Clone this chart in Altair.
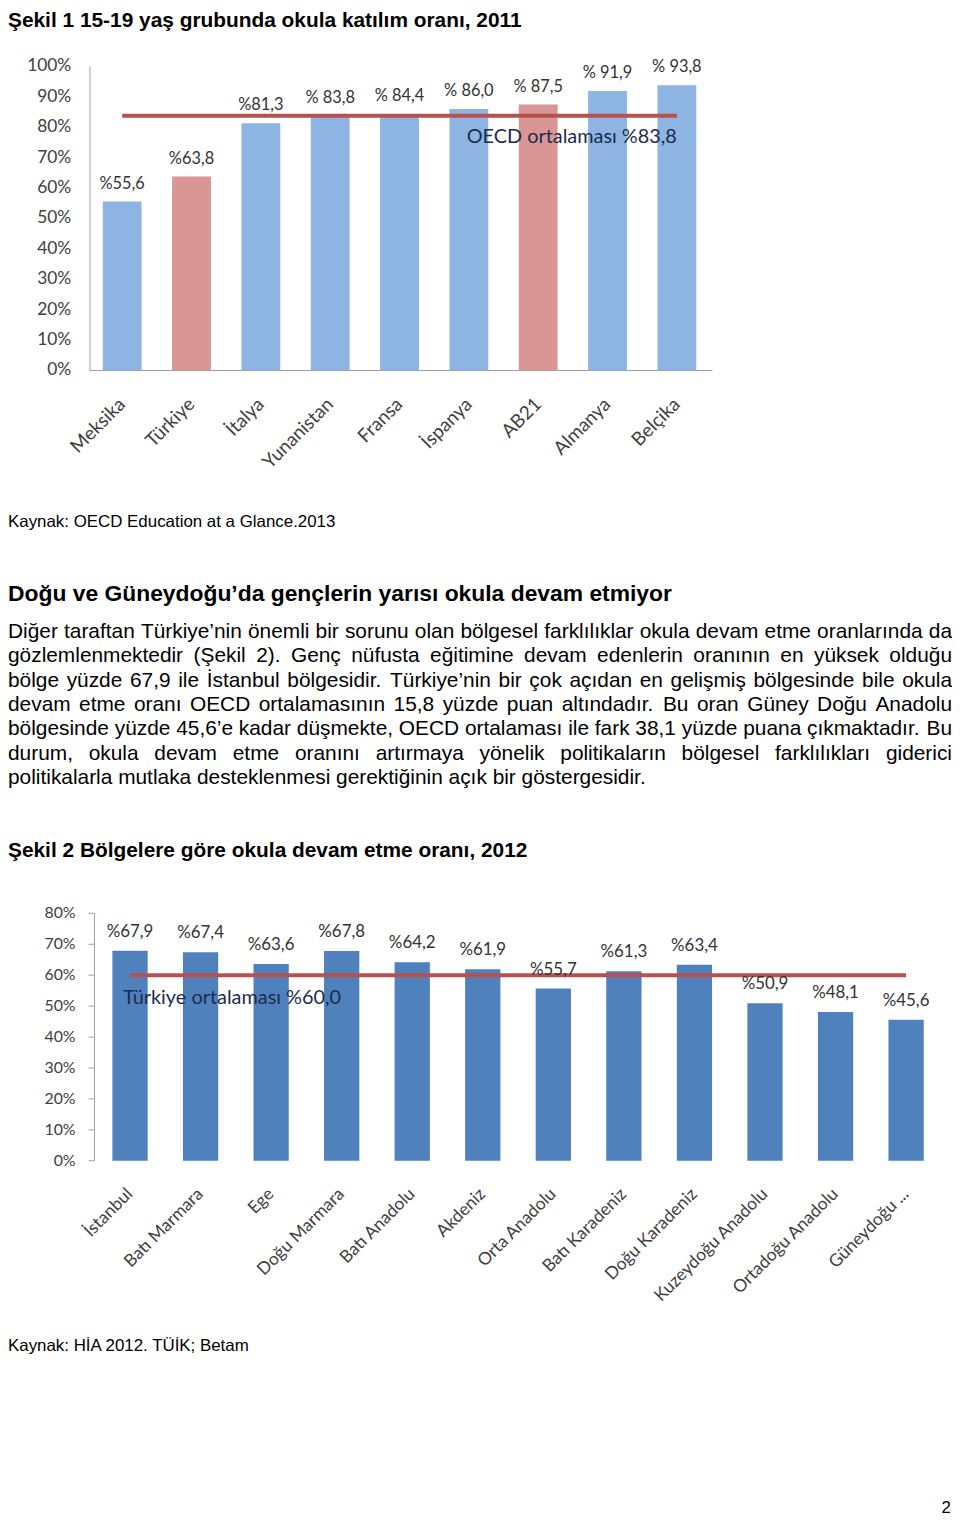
import altair as alt
import pandas as pd

# ---------------- data ----------------
fig1_title = "Şekil 1 15-19 yaş grubunda okula katılım oranı, 2011"
countries = ["Meksika", "Türkiye", "İtalya", "Yunanistan", "Fransa",
             "İspanya", "AB21", "Almanya", "Belçika"]
rates1 = [55.6, 63.8, 81.3, 83.8, 84.4, 86.0, 87.5, 91.9, 93.8]
labels1 = ["%55,6", "%63,8", "%81,3", "% 83,8", "% 84,4", "% 86,0",
           "% 87,5", "% 91,9", "% 93,8"]
groups1 = ["diğer", "Türkiye", "diğer", "diğer", "diğer", "diğer",
           "AB21", "diğer", "diğer"]
oecd_avg = [83.8]
oecd_text = ["OECD ortalaması %83,8"]
y1_ticks = [0, 10, 20, 30, 40, 50, 60, 70, 80, 90, 100]
y1_tick_labels = ["0%", "10%", "20%", "30%", "40%", "50%", "60%", "70%",
                  "80%", "90%", "100%"]
source1 = "Kaynak: OECD Education at a Glance.2013"

heading = "Doğu ve Güneydoğu’da gençlerin yarısı okula devam etmiyor"
paragraph = [
    "Diğer taraftan Türkiye’nin önemli bir sorunu olan bölgesel farklılıklar okula devam etme oranlarında da",
    "gözlemlenmektedir (Şekil 2). Genç nüfusta eğitimine devam edenlerin oranının en yüksek olduğu",
    "bölge yüzde 67,9 ile İstanbul bölgesidir. Türkiye’nin bir çok açıdan en gelişmiş bölgesinde bile okula",
    "devam etme oranı OECD ortalamasının 15,8 yüzde puan altındadır. Bu oran Güney Doğu Anadolu",
    "bölgesinde yüzde 45,6’e kadar düşmekte, OECD ortalaması ile fark 38,1 yüzde puana çıkmaktadır. Bu",
    "durum, okula devam etme oranını artırmaya yönelik politikaların bölgesel farklılıkları giderici",
    "politikalarla mutlaka desteklenmesi gerektiğinin açık bir göstergesidir.",
]

fig2_title = "Şekil 2 Bölgelere göre okula devam etme oranı, 2012"
regions = ["İstanbul", "Batı Marmara", "Ege", "Doğu Marmara", "Batı Anadolu",
           "Akdeniz", "Orta Anadolu", "Batı Karadeniz", "Doğu Karadeniz",
           "Kuzeydoğu Anadolu", "Ortadoğu Anadolu", "Güneydoğu ..."]
rates2 = [67.9, 67.4, 63.6, 67.8, 64.2, 61.9, 55.7, 61.3, 63.4, 50.9, 48.1, 45.6]
labels2 = ["%67,9", "%67,4", "%63,6", "%67,8", "%64,2", "%61,9", "%55,7",
           "%61,3", "%63,4", "%50,9", "%48,1", "%45,6"]
tr_avg = [60.0]
tr_text = ["Türkiye ortalaması %60,0"]
y2_ticks = [0, 10, 20, 30, 40, 50, 60, 70, 80]
y2_tick_labels = ["0%", "10%", "20%", "30%", "40%", "50%", "60%", "70%", "80%"]
source2 = "Kaynak: HİA 2012. TÜİK; Betam"
page_no = "2"

# ---------------- layout / style ----------------
W, H = 950, 1515


def py(v):
    """reference-page pixel -> canvas pixel (page has an 8px margin)"""
    return v - 8


BLUE1, PINK1 = "#8DB4E2", "#D99694"
BLUE2 = "#4F81BD"
RED = "#B9504E"
NAVY = "#1C2C4C"
AXIS_GRAY = "#A0A0A0"
LABEL = "#404040"
VAL = "#333333"
CH_FONT = "Lato"
DOC_FONT = "Liberation Sans"
PARA_SIZE = 21

# ---------------- chart 1 ----------------
df1 = pd.DataFrame({"country": countries, "rate": rates1,
                    "label": labels1, "group": groups1})
avg1 = pd.DataFrame({"start": [countries[0]], "end": [countries[-1]],
                     "avg": oecd_avg, "text": oecd_text})
tk1 = pd.DataFrame({"v": y1_ticks, "t": y1_tick_labels})

xs1 = alt.Scale(domain=countries, range=[py(88), py(716)],
                paddingInner=0.44, paddingOuter=0.22)
ys1 = alt.Scale(domain=[0, 100], range=[py(368), py(62)], nice=False)

X1 = alt.X("country:N", scale=xs1, axis=None)
Y1 = alt.Y("rate:Q", scale=ys1, axis=None)

bars1 = alt.Chart(df1).mark_bar().encode(
    x=X1, y=Y1,
    color=alt.Color("group:N", legend=None, scale=alt.Scale(
        domain=["diğer", "Türkiye", "AB21"], range=[BLUE1, PINK1, PINK1])),
)
vals1 = alt.Chart(df1).mark_text(dy=-18, font=CH_FONT, fontSize=16.5,
                                 color=VAL).encode(x=X1, y=Y1, text="label:N")
xlab1 = alt.Chart(df1).mark_text(
    angle=315, align="right", baseline="middle", font=CH_FONT, fontSize=19,
    color=LABEL).encode(x=X1, y=alt.value(py(368) + 31), text="country:N")
ylab1 = alt.Chart(tk1).mark_text(
    align="right", baseline="middle", font=CH_FONT, fontSize=17.5,
    color=LABEL).encode(x=alt.value(py(71.7)),
                        y=alt.Y("v:Q", scale=ys1, axis=None), text="t:N")
ydom1 = alt.Chart(tk1).mark_rule(color=AXIS_GRAY, strokeWidth=1).encode(
    x=alt.value(py(90.5)),
    y=alt.Y("min(v):Q", scale=ys1, axis=None), y2="max(v):Q")
xdom1 = alt.Chart(tk1).mark_rule(color=AXIS_GRAY, strokeWidth=1).encode(
    x=alt.value(py(90.5)), x2=alt.value(py(717)),
    y=alt.Y("min(v):Q", scale=ys1, axis=None))
rule1 = alt.Chart(avg1).mark_rule(strokeWidth=4, color=RED).encode(
    x=alt.X("start:N", scale=xs1, axis=None, bandPosition=0.5),
    x2=alt.X2("end:N", bandPosition=0.5),
    y=alt.Y("avg:Q", scale=ys1, axis=None),
)
avgtxt1 = alt.Chart(avg1).mark_text(align="right", dy=21, font=CH_FONT,
                                    fontSize=20, color=NAVY).encode(
    x=alt.X("end:N", scale=xs1, axis=None, bandPosition=0.5),
    y=alt.Y("avg:Q", scale=ys1, axis=None),
    text="text:N",
)
chart1 = alt.layer(xdom1, ydom1, bars1, rule1, vals1, avgtxt1, xlab1, ylab1)

# ---------------- chart 2 ----------------
df2 = pd.DataFrame({"region": regions, "rate": rates2, "label": labels2})
avg2 = pd.DataFrame({"start": [regions[0]], "end": [regions[-1]],
                     "avg": tr_avg, "text": tr_text})
tk2 = pd.DataFrame({"v": y2_ticks, "t": y2_tick_labels})

xs2 = alt.Scale(domain=regions, range=[py(95.3), py(947.3)],
                paddingInner=0.5, paddingOuter=0.25)
ys2 = alt.Scale(domain=[0, 80], range=[py(1163.3), py(914.3)], nice=False)

X2 = alt.X("region:N", scale=xs2, axis=None)
Y2 = alt.Y("rate:Q", scale=ys2, axis=None)

bars2 = alt.Chart(df2).mark_bar(color=BLUE2).encode(x=X2, y=Y2)
vals2 = alt.Chart(df2).mark_text(dy=-19, font=CH_FONT, fontSize=17,
                                 color=VAL).encode(x=X2, y=Y2, text="label:N")
xlab2 = alt.Chart(df2).mark_text(
    angle=315, align="right", baseline="middle", font=CH_FONT, fontSize=17.5,
    color=LABEL).encode(x=X2, y=alt.value(py(1163.3) + 31), text="region:N")
ylab2 = alt.Chart(tk2).mark_text(
    align="right", baseline="middle", font=CH_FONT, fontSize=16,
    color=LABEL).encode(x=alt.value(py(76)),
                        y=alt.Y("v:Q", scale=ys2, axis=None), text="t:N")
yticks2 = alt.Chart(tk2).mark_rule(color=AXIS_GRAY, strokeWidth=1).encode(
    x=alt.value(py(89)), x2=alt.value(py(95)),
    y=alt.Y("v:Q", scale=ys2, axis=None))
ydom2 = alt.Chart(tk2).mark_rule(color=AXIS_GRAY, strokeWidth=1).encode(
    x=alt.value(py(95)),
    y=alt.Y("min(v):Q", scale=ys2, axis=None), y2="max(v):Q")
rule2 = alt.Chart(avg2).mark_rule(strokeWidth=4, color=RED).encode(
    x=alt.X("start:N", scale=xs2, axis=None, bandPosition=0.5),
    x2=alt.X2("end:N", bandPosition=0.5),
    y=alt.Y("avg:Q", scale=ys2, axis=None),
)
avgtxt2 = alt.Chart(avg2).mark_text(align="left", dx=-7, dy=23, font=CH_FONT,
                                    fontSize=20, color=NAVY).encode(
    x=alt.X("start:N", scale=xs2, axis=None, bandPosition=0.5),
    y=alt.Y("avg:Q", scale=ys2, axis=None),
    text="text:N",
)
chart2 = alt.layer(ydom2, yticks2, bars2, rule2, vals2, avgtxt2, xlab2, ylab2)


# ---------------- document text ----------------
def text_block(s, x, y, size, bold=False, align="left"):
    return alt.Chart(pd.DataFrame({"t": [s]})).mark_text(
        align=align, baseline="middle", font=DOC_FONT, fontSize=size,
        fontWeight="bold" if bold else "normal", color="#000000").encode(
        x=alt.value(x), y=alt.value(y), text="t:N")


t_fig1 = text_block(fig1_title, 0, 8, 21, bold=True)
t_src1 = text_block(source1, 0, py(520), 17)
t_head = text_block(heading, 0, py(593), 23, bold=True)
t_fig2 = text_block(fig2_title, 0, py(852), 21, bold=True)
t_src2 = text_block(source2, 0, py(1350), 17)
t_page = text_block(page_no, W - 1, H - 10, 17, align="right")

# --- justified paragraph: word layout built from the text with Arial metrics
ARIAL = {" ": 278, "%": 889, "'": 191, "(": 333, ")": 333, ",": 278,
         "-": 333, ".": 278, ":": 278, ";": 278, "’": 222,
         "A": 667, "B": 667, "C": 722, "D": 722, "E": 667, "F": 611,
         "G": 778, "H": 722, "I": 278, "J": 500, "K": 667, "L": 556,
         "M": 833, "N": 722, "O": 778, "P": 667, "Q": 778, "R": 722,
         "S": 667, "T": 611, "U": 722, "V": 667, "W": 944, "X": 667,
         "Y": 667, "Z": 611, "a": 556, "b": 556, "c": 500, "d": 556,
         "e": 556, "f": 278, "g": 556, "h": 556, "i": 222, "j": 222,
         "k": 500, "l": 222, "m": 833, "n": 556, "o": 556, "p": 556,
         "q": 556, "r": 333, "s": 500, "t": 278, "u": 556, "v": 500,
         "w": 722, "x": 500, "y": 500, "z": 500, "ç": 500, "ğ": 556,
         "ı": 278, "ö": 556, "ş": 500, "ü": 556, "Ç": 722, "Ğ": 778,
         "İ": 278, "Ö": 778, "Ş": 667, "Ü": 722}


def tw(s, size):
    return sum(ARIAL.get(c, 556) for c in s) / 1000.0 * size


rows = []
for li, line in enumerate(paragraph):
    words = line.split(" ")
    if li == len(paragraph) - 1:
        rows.append({"w": line, "i": li, "x": 0.0, "last": False})
        continue
    widths = [tw(w, PARA_SIZE) for w in words]
    gap = (W - sum(widths)) / (len(words) - 1)
    xpos = 0.0
    for k, (w, wd) in enumerate(zip(words, widths)):
        last = k == len(words) - 1
        rows.append({"w": w, "i": li, "x": float(W) if last else xpos,
                     "last": last})
        xpos += wd + gap
dfw = pd.DataFrame(rows)

para_y = alt.Y("i:Q", axis=None,
               scale=alt.Scale(domain=[0, len(paragraph) - 1],
                               range=[py(631), py(778)], nice=False))
para_base = alt.Chart(dfw).mark_text(
    baseline="middle", font=DOC_FONT, fontSize=PARA_SIZE, color="#000000")
para_left = para_base.transform_filter("!datum.last").mark_text(
    align="left", baseline="middle", font=DOC_FONT, fontSize=PARA_SIZE,
    color="#000000").encode(x=alt.X("x:Q", scale=None, axis=None),
                            y=para_y, text="w:N")
para_right = para_base.transform_filter("datum.last").mark_text(
    align="right", baseline="middle", font=DOC_FONT, fontSize=PARA_SIZE,
    color="#000000").encode(x=alt.X("x:Q", scale=None, axis=None),
                            y=para_y, text="w:N")
para = alt.layer(para_left, para_right)

chart = alt.layer(
    chart1, chart2, t_fig1, t_src1, t_head, para, t_fig2, t_src2, t_page
).resolve_scale(
    x="independent", y="independent", color="independent"
).properties(
    width=W, height=H, padding=0, background="white",
    autosize=alt.AutoSizeParams(type="none"),
).configure_view(stroke=None)

chart.save("out.html", embed_options={"renderer": "svg", "actions": False})
